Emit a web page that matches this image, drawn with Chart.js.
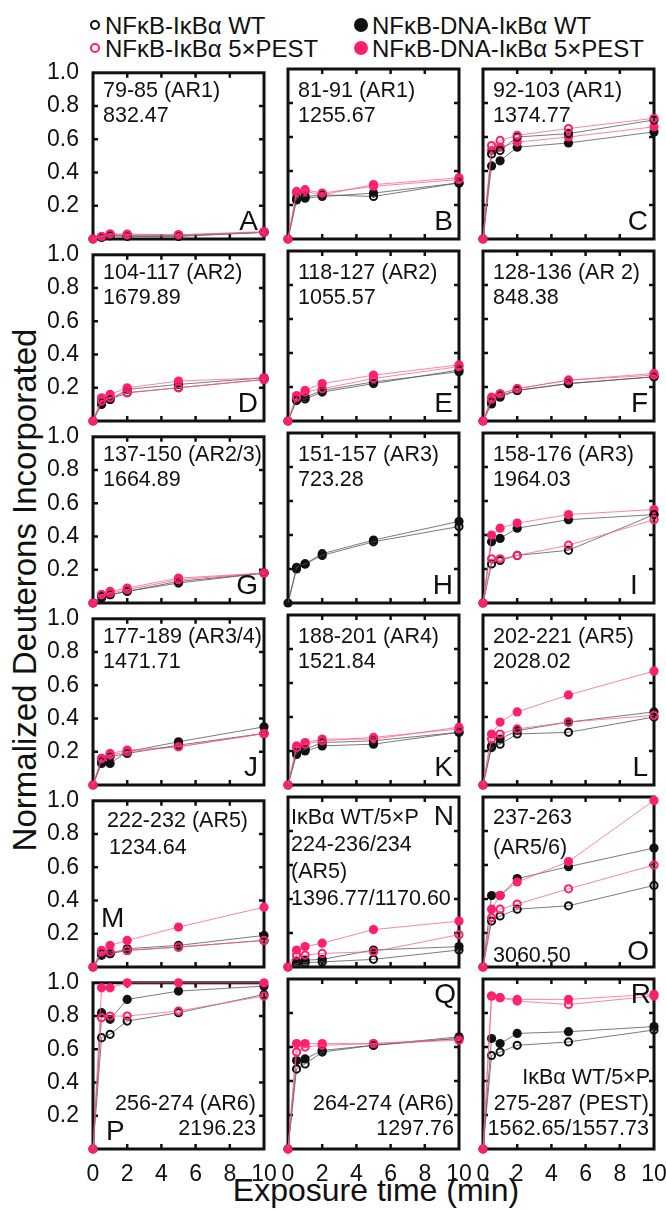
<!DOCTYPE html>
<html>
<head>
<meta charset="utf-8">
<script src="https://cdn.jsdelivr.net/npm/chart.js@4.4.0/dist/chart.umd.min.js"></script>
<style>
  body { margin: 0; background: #fff; }
  #page { position: relative; width: 666px; height: 1210px; overflow: hidden; font-family: "Liberation Sans", Arial, sans-serif; color: #111; }
  canvas { position: absolute; }
  .lbl { position: absolute; white-space: nowrap; }
  .dot { position: absolute; border-radius: 50%; box-sizing: border-box; }
  .ytitle { position: absolute; left: 25px; top: 590px; transform: translate(-50%, -50%) rotate(-90deg); font-size: 33px; white-space: nowrap; }
  .xtitle { position: absolute; left: 376px; top: 1190px; transform: translate(-50%, -50%); font-size: 32px; white-space: nowrap; }
</style>
</head>
<body>
<div id="page">
  <div class="ytitle">Normalized Deuterons Incorporated</div>
  <div class="xtitle">Exposure time (min)</div>
</div>
<script>
// exposure times (min)
const times = [0, 0.5, 1, 2, 5, 10];
const letters = ['A','B','C','D','E','F','G','H','I','J','K','L','M','N','O','P','Q','R'];
const peptides = ['79-85 (AR1)', '81-91 (AR1)', '92-103 (AR1)', '104-117 (AR2)', '118-127 (AR2)', '128-136 (AR 2)',
  '137-150 (AR2/3)', '151-157 (AR3)', '158-176 (AR3)', '177-189 (AR3/4)', '188-201 (AR4)', '202-221 (AR5)',
  '222-232 (AR5)', '224-236/234', '237-263', '256-274 (AR6)', '264-274 (AR6)', '275-287 (PEST)'];
const masses = ['832.47', '1255.67', '1374.77', '1679.89', '1055.57', '848.38', '1664.89', '723.28', '1964.03',
  '1471.71', '1521.84', '2028.02', '1234.64', '1396.77/1170.60', '3060.50', '2196.23', '1297.76', '1562.65/1557.73'];

// NFkB-IkBa WT (open black)
const freeWT = [
  [0, 0.01, 0.02, 0.02, 0.02, 0.04], [0, 0.24, 0.25, 0.26, 0.25, 0.33], [0, 0.50, 0.52, 0.60, 0.62, 0.70],
  [0, 0.11, 0.13, 0.17, 0.20, 0.25], [0, 0.12, 0.13, 0.17, 0.22, 0.30], [0, 0.11, 0.15, 0.18, 0.22, 0.26],
  [0, 0.04, 0.05, 0.07, 0.12, 0.18], [0, 0.21, 0.23, 0.28, 0.36, 0.45], [0, 0.23, 0.25, 0.28, 0.31, 0.52],
  [0, 0.14, 0.17, 0.19, 0.24, 0.31], [0, 0.19, 0.21, 0.25, 0.26, 0.31], [0, 0.22, 0.24, 0.30, 0.31, 0.40],
  [0, 0.08, 0.08, 0.10, 0.12, 0.16], [0, 0.02, 0.025, 0.03, 0.045, 0.10], [0, 0.27, 0.30, 0.34, 0.36, 0.48],
  [0, 0.67, 0.69, 0.77, 0.82, 0.93], [0, 0.47, 0.50, 0.57, 0.61, 0.65], [0, 0.55, 0.57, 0.61, 0.63, 0.70]
];
// NFkB-IkBa 5xPEST (open pink)
const freePEST = [
  [0, 0.015, 0.03, 0.025, 0.025, 0.04], [0, 0.28, 0.29, 0.27, 0.31, 0.35], [0, 0.55, 0.58, 0.61, 0.65, 0.71],
  [0, 0.12, 0.14, 0.17, 0.20, 0.25], [0, 0.14, 0.17, 0.19, 0.25, 0.32], [0, 0.13, 0.16, 0.19, 0.24, 0.27],
  [0, 0.05, 0.06, 0.08, 0.14, 0.18], null, [0, 0.26, 0.26, 0.28, 0.34, 0.49],
  [0, 0.16, 0.18, 0.20, 0.23, 0.31], [0, 0.22, 0.24, 0.26, 0.28, 0.33], [0, 0.27, 0.30, 0.33, 0.37, 0.41],
  [0, 0.09, 0.09, 0.10, 0.12, 0.16], [0, 0.07, 0.07, 0.08, 0.09, 0.19], [0, 0.29, 0.34, 0.37, 0.46, 0.60],
  [0, 0.79, 0.80, 0.80, 0.83, 0.92], [0, 0.57, 0.60, 0.61, 0.62, 0.64], [0, 0.90, 0.89, 0.87, 0.85, 0.90]
];
// NFkB-DNA-IkBa WT (filled black)
const dnaWT = [
  [0, 0.01, 0.02, 0.015, 0.015, 0.04], [0, 0.23, 0.24, 0.25, 0.27, 0.33], [0, 0.43, 0.46, 0.54, 0.565, 0.63],
  [0, 0.10, 0.13, 0.19, 0.22, 0.26], [0, 0.13, 0.14, 0.18, 0.23, 0.29], [0, 0.10, 0.14, 0.18, 0.22, 0.26],
  [0, 0.03, 0.05, 0.07, 0.13, 0.18], [0, 0.20, 0.23, 0.29, 0.37, 0.48], [0, 0.36, 0.38, 0.44, 0.49, 0.52],
  [0, 0.13, 0.13, 0.20, 0.26, 0.35], [0, 0.18, 0.20, 0.23, 0.24, 0.31], [0, 0.23, 0.27, 0.32, 0.37, 0.43],
  [0, 0.07, 0.08, 0.11, 0.13, 0.19], [0, 0.035, 0.04, 0.045, 0.10, 0.12], [0, 0.42, 0.42, 0.52, 0.59, 0.70],
  [0, 0.82, 0.78, 0.90, 0.95, 0.98], [0, 0.52, 0.53, 0.58, 0.61, 0.66], [0, 0.65, 0.62, 0.68, 0.69, 0.72]
];
// NFkB-DNA-IkBa 5xPEST (filled pink)
const dnaPEST = [
  [0, 0.015, 0.03, 0.03, 0.025, 0.045], [0, 0.27, 0.28, 0.26, 0.32, 0.36], [0, 0.52, 0.54, 0.57, 0.60, 0.66],
  [0, 0.14, 0.16, 0.20, 0.24, 0.26], [0, 0.15, 0.18, 0.22, 0.27, 0.33], [0, 0.14, 0.16, 0.19, 0.24, 0.28],
  [0, 0.05, 0.07, 0.09, 0.15, 0.18], null, [0, 0.40, 0.44, 0.47, 0.52, 0.55],
  [0, 0.16, 0.19, 0.21, 0.23, 0.31], [0, 0.23, 0.25, 0.27, 0.27, 0.34], [0, 0.30, 0.37, 0.43, 0.53, 0.67],
  [0, 0.10, 0.13, 0.16, 0.24, 0.36], [0, 0.10, 0.12, 0.14, 0.22, 0.27], [0, 0.34, 0.42, 0.50, 0.62, 0.98],
  [0, 0.97, 0.97, 1.0, 1.0, 1.0], [0, 0.62, 0.62, 0.62, 0.62, 0.65], [0, 0.90, 0.89, 0.88, 0.88, 0.91]
];

const xTicks = [2, 4, 6, 8];
const yTicks = [0.2, 0.4, 0.6, 0.8];

const PINK = '#ff1f6e';
const FONT = '"Liberation Sans", Arial, sans-serif';
const colL = [93, 288, 483];
const rowT = [69, 251, 433, 615, 797, 979];
const PW = 171, PH = 170;
const PAD_L = 60, PAD_T = 16, PAD_R = 18, PAD_B = 40;
const page = document.getElementById('page');

function addText(x, yc, str, size, align) {
  const d = document.createElement('div');
  d.className = 'lbl';
  d.textContent = str;
  const lh = Math.round(size * 1.2);
  d.style.fontSize = size + 'px';
  d.style.lineHeight = lh + 'px';
  d.style.top = (yc - lh / 2) + 'px';
  if (align === 'right') d.style.right = (666 - x) + 'px';
  else d.style.left = x + 'px';
  page.appendChild(d);
}

function addDot(cx, cy, size, fill, ring) {
  const d = document.createElement('div');
  d.className = 'dot';
  d.style.left = (cx - size / 2) + 'px';
  d.style.top = (cy - size / 2) + 'px';
  d.style.width = size + 'px';
  d.style.height = size + 'px';
  if (ring) d.style.border = '2.5px solid ' + fill;
  else d.style.background = fill;
  page.appendChild(d);
}

// legend
addDot(95, 25, 10, '#111', true);  addText(105, 25, 'NFκB-IκBα WT', 24);
addDot(95, 48, 10, PINK, true);    addText(105, 48, 'NFκB-IκBα 5×PEST', 24);
addDot(361, 25, 14, '#111', false); addText(372, 25, 'NFκB-DNA-IκBα WT', 24);
addDot(361, 48, 14, PINK, false);   addText(372, 48, 'NFκB-DNA-IκBα 5×PEST', 24);

const framePlugin = {
  id: 'frame',
  beforeDatasetsDraw(chart) {
    const { ctx, chartArea: a, scales } = chart;
    ctx.save();
    ctx.strokeStyle = '#111';
    ctx.lineWidth = 3;
    ctx.strokeRect(a.left, a.top, a.right - a.left, a.bottom - a.top);
    ctx.lineWidth = 2.5;
    ctx.beginPath();
    xTicks.forEach(v => {
      const px = scales.x.getPixelForValue(v);
      ctx.moveTo(px, a.top); ctx.lineTo(px, a.top + 5);
      ctx.moveTo(px, a.bottom); ctx.lineTo(px, a.bottom - 5);
    });
    yTicks.forEach(v => {
      const py = scales.y.getPixelForValue(v);
      ctx.moveTo(a.left, py); ctx.lineTo(a.left + 5, py);
      ctx.moveTo(a.right, py); ctx.lineTo(a.right - 5, py);
    });
    ctx.stroke();
    ctx.restore();
  }
};

function series(vals, color, lineColor, open) {
  return {
    data: times.map((t, j) => ({ x: t, y: vals[j] })),
    showLine: true,
    borderColor: lineColor,
    borderWidth: 1,
    tension: 0,
    clip: false,
    pointRadius: times.map((t, j) => (open && j === 0) ? 0 : (open ? 3.6 : 4.6)),
    pointBackgroundColor: open ? 'rgba(0,0,0,0)' : color,
    pointBorderColor: color,
    pointBorderWidth: open ? 2 : 0
  };
}

for (let i = 0; i < 18; i++) {
  const row = Math.floor(i / 3), col = i % 3;
  const left = colL[col], top = rowT[row];
  const cv = document.createElement('canvas');
  cv.width = PAD_L + PW + PAD_R;
  cv.height = PAD_T + PH + PAD_B;
  cv.style.left = (left - PAD_L) + 'px';
  cv.style.top = (top - PAD_T) + 'px';
  page.appendChild(cv);

  const datasets = [];
  if (freePEST[i]) datasets.push(series(freePEST[i], PINK, 'rgba(255,90,140,0.75)', true));
  if (freeWT[i]) datasets.push(series(freeWT[i], '#111', 'rgba(90,90,90,0.8)', true));
  if (dnaPEST[i]) datasets.push(series(dnaPEST[i], PINK, 'rgba(255,90,140,0.75)', false));
  if (dnaWT[i]) datasets.push(series(dnaWT[i], '#111', 'rgba(90,90,90,0.8)', false));

  new Chart(cv, {
    type: 'scatter',
    data: { datasets },
    options: {
      responsive: false,
      animation: false,
      devicePixelRatio: 1,
      layout: { padding: { left: 0, top: PAD_T, right: PAD_R, bottom: 0 } },
      plugins: { legend: { display: false }, tooltip: { enabled: false } },
      scales: {
        x: {
          type: 'linear', min: 0, max: 10,
          grid: { display: false }, border: { display: false },
          ticks: { display: row === 5, stepSize: 2, autoSkip: false, maxRotation: 0, padding: 4,
                   color: '#111', font: { family: FONT, size: 23 } },
          afterFit: s => { s.height = PAD_B; }
        },
        y: {
          type: 'linear', min: 0, max: 1,
          grid: { display: false }, border: { display: false },
          ticks: { display: col === 0, stepSize: 0.2, padding: 6, color: '#111',
                   font: { family: FONT, size: 23 },
                   callback: v => v < 0.01 ? '' : v.toFixed(1) },
          afterFit: s => { s.width = PAD_L; }
        }
      }
    },
    plugins: [framePlugin]
  });

  const right = left + PW, bottom = top + PH;
  const fs = 21.5, ls = 28;
  if (i <= 11) {
    addText(left + 10, top + 20.5, peptides[i], fs);
    addText(left + 10, top + 45.5, masses[i], fs);
    if (letters[i] === 'I') addText(right - 24, bottom - 18, 'I', ls);
    else addText(right - 6, bottom - 18, letters[i], ls, 'right');
  } else if (i === 12) {
    addText(left + 14, top + 23, peptides[i], fs);
    addText(left + 16, top + 50, masses[i], fs);
    addText(left + 8, bottom - 49, letters[i], ls);
  } else if (i === 13) {
    addText(left + 3, top + 20, 'IκBα WT/5×P', fs);
    addText(left + 3, top + 47, peptides[i], fs);
    addText(left + 3, top + 74, '(AR5)', fs);
    addText(left + 3, top + 101, masses[i], fs);
    addText(right - 5, top + 19, letters[i], ls, 'right');
  } else if (i === 14) {
    addText(left + 10, top + 20, peptides[i], fs);
    addText(left + 10, top + 50, '(AR5/6)', fs);
    addText(left + 10, top + 158, masses[i], fs);
    addText(right - 5, bottom - 16, letters[i], ls, 'right');
  } else if (i === 15) {
    addText(right - 8, top + 124, peptides[i], fs, 'right');
    addText(right - 8, top + 149, masses[i], fs, 'right');
    addText(left + 13, bottom - 18, letters[i], ls);
  } else {
    if (i === 17) addText(right - 4, top + 98, 'IκBα WT/5×P', fs, 'right');
    addText(right - 5, top + 124, peptides[i], fs, 'right');
    addText(right - 5, top + 149, masses[i], fs, 'right');
    addText(right - 3, top + 15, letters[i], ls, 'right');
  }
}
</script>
</body>
</html>
